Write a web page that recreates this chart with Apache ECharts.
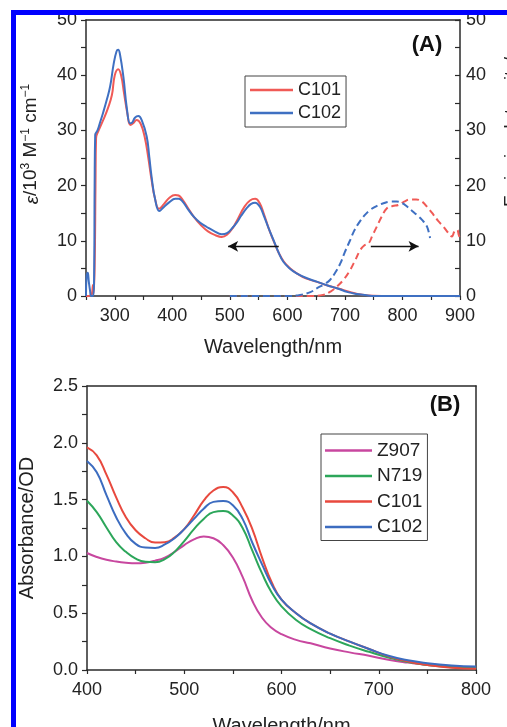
<!DOCTYPE html>
<html>
<head>
<meta charset="utf-8">
<script src="https://cdn.jsdelivr.net/npm/echarts@6/dist/echarts.min.js"></script>
<style>
html,body{margin:0;padding:0;background:#fff;}
#c{width:507px;height:727px;}
</style>
</head>
<body>
<div id="c"></div>
<script>
// ---------- Panel A : absorption (left axis) ----------
var absNmC101 = [250,255,260,262,263,265,266.5,267.5,272,280,288,295,300,306,311,316,322,327,332,338,345,352,358,364,370,377,385,395,405,411,418,428,437,450,462,475,486,495,505,515,525,535,544,552,560,568,576,585,594,605,618,632,650,670,690,710,730,750,780,820,860,900];
var absValC101 = [0,0,0.3,2,0.5,5,20,28.6,30,31.9,34,36.4,40,41.1,40,36.8,33,31,31.3,31.9,31.2,28.8,25.2,21,17.6,15.8,16.6,17.8,18.3,18.2,17.4,15.8,14.4,12.8,11.7,11,10.7,11.1,12.3,14.2,16.1,17.3,17.6,16.8,14.6,12.1,10,7.8,6.2,5,4,3.2,2.6,1.9,1.3,0.7,0.25,0.05,0,0,0,0];
var absNmC102 = [250,251,253,255,257,259,262,264,265,266,270,274,280,286,292,298,303,306,309,315,321,326.5,330,335,341,347,355.5,360,364,370,377.5,385,395,405,411,418,428,437,448,460,472,486,495,505,512,520,530,537,544,552,560,568,576,585,593,605,616,632,651,670,686,705,721,740,750,800,850,900];
var absValC102 = [0,3.5,4.2,2.5,1,0,0,3,20,29.2,30,31.3,33.3,35.5,38,42,44.3,44.6,43.8,39.7,34,31.3,31.4,32.3,32.6,31.8,28.9,25.2,21.6,17.6,15.4,16.1,17,17.6,17.6,17.1,15.6,14.4,13.3,12.5,11.8,11.2,11.4,12.4,13.3,14.6,16,16.7,16.9,16.2,14.3,12.1,10.1,7.8,6.2,4.9,4.1,3.3,2.6,1.9,1.4,0.7,0.36,0.1,0,0,0,0];
// ---------- Panel A : emission (right axis) ----------
var emNmC101 = [500,560,600,640,662,675,686,698,709,718,726.5,734,741,748,755.6,764,773,783,793,803,813.5,824,834,844,854,862,871,879,886,890,895,898,900];
var emValC101 = [0,0,0,0,0.2,0.8,1.7,3,4.7,6.5,8.3,9.2,9.5,11,12.6,14.4,15.9,16.3,16.5,17.1,17.5,17.5,17.1,16,14.7,13.6,12.6,11.5,10.8,11.6,12,11,10.5];
var emNmC102 = [500,560,600,622,640,651,665,674,683,692,700,709,716,724,734,744,755,767,779,790,800,808,816,825,834,842.5,848];
var emValC102 = [0,0,0,0.2,0.7,1.4,2.2,2.9,4.2,5.9,8,10.1,11.8,13.2,14.6,15.6,16.3,16.8,17.1,17.1,16.8,16.2,15.5,14.7,13.8,12.6,10.5];
// arrows: [from, to, level]
var arrowAbs = [585, 497, 9];
var arrowEm = [745, 828, 9];

// ---------- Panel B : absorbance of films ----------
var nmB = [400,410,420,430,440,450,460,470,480,490,500,510,520,530,540,550,560,570,580,590,600,615,630,650,670,690,710,730,750,775,800];
var valZ907 = [1.03,0.995,0.97,0.955,0.945,0.94,0.945,0.962,0.99,1.04,1.10,1.15,1.175,1.16,1.10,0.99,0.82,0.61,0.46,0.37,0.315,0.265,0.235,0.19,0.155,0.125,0.09,0.065,0.045,0.03,0.02];
var valN719 = [1.49,1.39,1.255,1.125,1.04,0.98,0.952,0.948,0.975,1.04,1.135,1.24,1.33,1.39,1.40,1.36,1.25,1.05,0.85,0.68,0.56,0.44,0.36,0.28,0.215,0.16,0.11,0.07,0.045,0.025,0.015];
var valC101 = [1.96,1.89,1.72,1.52,1.345,1.23,1.16,1.122,1.125,1.165,1.24,1.36,1.49,1.58,1.61,1.565,1.43,1.24,0.99,0.77,0.62,0.50,0.41,0.32,0.25,0.185,0.12,0.075,0.045,0.02,0.01];
var valC102 = [1.84,1.74,1.54,1.345,1.20,1.11,1.078,1.075,1.105,1.16,1.24,1.33,1.42,1.48,1.488,1.45,1.33,1.12,0.93,0.75,0.62,0.50,0.41,0.32,0.25,0.185,0.125,0.085,0.06,0.04,0.03];

var tickA = ['300','400','500','600','700','800','900'];
var tickB = ['400','500','600','700','800'];

function zip(a, b) { return a.map(function (v, i) { return [v, b[i]]; }); }

var FONT = 'Liberation Sans, Arial, Helvetica, sans-serif';
var AX = '#2a2a2a';
var colA = { C101: '#f05a56', C102: '#3f70c2' };
var colB = { Z907: '#c8479f', N719: '#2ca65a', C101: '#e8493e', C102: '#3c6cc0' };

function xAx(grid, min, max, labels, name, gap) {
  return {
    type: 'value', gridIndex: grid, position: 'bottom', min: min, max: max, interval: 50,
    axisLine: { lineStyle: { color: AX, width: 1.5 } },
    axisTick: { show: true, length: 4, lineStyle: { color: AX, width: 1.2 } },
    axisLabel: { color: '#222', fontSize: 18, fontFamily: FONT, margin: 11,
      formatter: function (v) { return labels.indexOf(String(v)) >= 0 ? String(v) : ''; } },
    splitLine: { show: false },
    name: name, nameLocation: 'middle', nameGap: gap,
    nameTextStyle: { color: '#222', fontSize: 20, fontFamily: FONT }
  };
}
function frameAx(grid, pos, isX) {
  var o = { type: 'value', gridIndex: grid, position: pos,
    axisLine: { show: true, onZero: false, lineStyle: { color: AX, width: 1.5 } },
    axisTick: { show: false }, axisLabel: { show: false }, splitLine: { show: false } };
  if (isX) { o.min = 0; o.max = 1; }
  return o;
}
function legItem(name, color) {
  return { name: name, icon: 'rect', itemStyle: { color: color, borderWidth: 0 } };
}

var chart = echarts.init(document.getElementById('c'), null, { renderer: 'canvas' });
var option = {
  animation: false,
  backgroundColor: '#fff',
  textStyle: { fontFamily: FONT },
  grid: [
    { left: 86, top: 20, width: 374, height: 276, containLabel: false, outerBoundsMode: 'none' },
    { left: 87, top: 386, width: 389, height: 284, containLabel: false, outerBoundsMode: 'none' }
  ],
  xAxis: [
    xAx(0, 250, 900, tickA, 'Wavelength/nm', 41),
    frameAx(0, 'top', true),
    xAx(1, 400, 800, tickB, 'Wavelength/nm', 46),
    frameAx(1, 'top', true)
  ],
  yAxis: [
    { type: 'value', gridIndex: 0, position: 'left', min: 0, max: 50, interval: 10,
      axisLine: { show: true, lineStyle: { color: AX, width: 1.5 } },
      axisTick: { show: true, length: 5, lineStyle: { color: AX, width: 1.2 } },
      minorTick: { show: true, splitNumber: 2, length: 5, lineStyle: { color: AX, width: 1.2 } },
      axisLabel: { color: '#222', fontSize: 18, fontFamily: FONT, margin: 9 },
      splitLine: { show: false } },
    { type: 'value', gridIndex: 0, position: 'right', min: 0, max: 50, interval: 10,
      axisLine: { show: true, lineStyle: { color: AX, width: 1.5 } },
      axisTick: { show: true, inside: true, length: 5, lineStyle: { color: AX, width: 1.2 } },
      minorTick: { show: true, splitNumber: 2, length: 5, lineStyle: { color: AX, width: 1.2 } },
      axisLabel: { color: '#222', fontSize: 18, fontFamily: FONT, margin: 6 },
      splitLine: { show: false } },
    { type: 'value', gridIndex: 1, position: 'left', min: 0, max: 2.5, interval: 0.5,
      axisLine: { show: true, lineStyle: { color: AX, width: 1.5 } },
      axisTick: { show: true, length: 5, lineStyle: { color: AX, width: 1.2 } },
      minorTick: { show: true, splitNumber: 2, length: 5, lineStyle: { color: AX, width: 1.2 } },
      axisLabel: { color: '#222', fontSize: 18, fontFamily: FONT, margin: 9,
        formatter: function (v) { return v.toFixed(1); } },
      splitLine: { show: false },
      name: 'Absorbance/OD', nameLocation: 'middle', nameGap: 50,
      nameTextStyle: { color: '#222', fontSize: 20, fontFamily: FONT } },
    frameAx(1, 'right', false)
  ],
  legend: [
    { orient: 'vertical', left: 245, top: 76, padding: [5, 5, 5, 5], itemGap: 5,
      itemWidth: 43, itemHeight: 2.5, borderColor: '#444', borderWidth: 1,
      textStyle: { color: '#222', fontSize: 18, fontFamily: FONT },
      data: [legItem('C101', colA.C101), legItem('C102', colA.C102)] },
    { orient: 'vertical', left: 321, top: 434, padding: [7, 5, 4, 4], itemGap: 6.5,
      itemWidth: 47, itemHeight: 2.5, borderColor: '#444', borderWidth: 1,
      textStyle: { color: '#222', fontSize: 19, fontFamily: FONT },
      data: [legItem('Z907', colB.Z907), legItem('N719', colB.N719), legItem('C101', colB.C101), legItem('C102', colB.C102)] }
  ],
  series: [
    { name: 'C101', type: 'line', xAxisIndex: 0, yAxisIndex: 0, data: zip(absNmC101, absValC101),
      symbol: 'none', smooth: 0.45, lineStyle: { color: colA.C101, width: 2 }, itemStyle: { color: colA.C101 }, z: 3 },
    { name: 'C102', type: 'line', xAxisIndex: 0, yAxisIndex: 0, data: zip(absNmC102, absValC102),
      symbol: 'none', smooth: 0.45, lineStyle: { color: colA.C102, width: 2 }, itemStyle: { color: colA.C102 }, z: 4,
      markLine: { silent: true, symbol: ['none', 'arrow'], symbolSize: [8, 10], label: { show: false },
        lineStyle: { color: '#111', width: 1.3, type: 'solid' },
        data: [[{ coord: [arrowAbs[0], arrowAbs[2]] }, { coord: [arrowAbs[1], arrowAbs[2]] }]] } },
    { name: 'C101', type: 'line', xAxisIndex: 0, yAxisIndex: 1, data: zip(emNmC101, emValC101),
      symbol: 'none', smooth: 0.4, lineStyle: { color: colA.C101, width: 2, type: [7, 4] }, itemStyle: { color: colA.C101 }, z: 3 },
    { name: 'C102', type: 'line', xAxisIndex: 0, yAxisIndex: 1, data: zip(emNmC102, emValC102),
      symbol: 'none', smooth: 0.4, lineStyle: { color: colA.C102, width: 2, type: [7, 4] }, itemStyle: { color: colA.C102 }, z: 4,
      markLine: { silent: true, symbol: ['none', 'arrow'], symbolSize: [8, 10], label: { show: false },
        lineStyle: { color: '#111', width: 1.3, type: 'solid' },
        data: [[{ coord: [arrowEm[0], arrowEm[2]] }, { coord: [arrowEm[1], arrowEm[2]] }]] } },

    { name: 'Z907', type: 'line', xAxisIndex: 2, yAxisIndex: 2, data: zip(nmB, valZ907),
      symbol: 'none', smooth: 0.5, lineStyle: { color: colB.Z907, width: 2 }, itemStyle: { color: colB.Z907 } },
    { name: 'N719', type: 'line', xAxisIndex: 2, yAxisIndex: 2, data: zip(nmB, valN719),
      symbol: 'none', smooth: 0.5, lineStyle: { color: colB.N719, width: 2 }, itemStyle: { color: colB.N719 } },
    { name: 'C101', type: 'line', xAxisIndex: 2, yAxisIndex: 2, data: zip(nmB, valC101),
      symbol: 'none', smooth: 0.5, lineStyle: { color: colB.C101, width: 2 }, itemStyle: { color: colB.C101 } },
    { name: 'C102', type: 'line', xAxisIndex: 2, yAxisIndex: 2, data: zip(nmB, valC102),
      symbol: 'none', smooth: 0.5, lineStyle: { color: colB.C102, width: 2 }, itemStyle: { color: colB.C102 } }
  ],
  graphic: [
    { type: 'text', x: 31, y: 144, rotation: Math.PI / 2, z: 50,
      style: { text: '{i|ε}/10{s|3} M{s|\u22121} cm{s|\u22121}', fill: '#222', align: 'center', verticalAlign: 'middle',
        font: '19px ' + FONT,
        rich: { i: { fontSize: 19, fontStyle: 'italic', fontFamily: FONT, lineHeight: 22, verticalAlign: 'bottom' },
                s: { fontSize: 12, fontFamily: FONT, lineHeight: 22, verticalAlign: 'top' } } } },
    { type: 'text', x: 503, y: 207, rotation: Math.PI / 2, z: 50,
      style: { text: 'Emission Intensity/a.u.', fill: '#222', align: 'left', verticalAlign: 'top', font: '18px ' + FONT } },
    { type: 'text', x: 427, y: 45, z: 50,
      style: { text: '(A)', fill: '#111', align: 'center', verticalAlign: 'middle', font: 'bold 22px ' + FONT } },
    { type: 'text', x: 445, y: 405, z: 50,
      style: { text: '(B)', fill: '#111', align: 'center', verticalAlign: 'middle', font: 'bold 22px ' + FONT } },
    { type: 'rect', z: 100, shape: { x: 11, y: 10, width: 496, height: 5 }, style: { fill: '#0000ff' } },
    { type: 'rect', z: 100, shape: { x: 11, y: 10, width: 5, height: 717 }, style: { fill: '#0000ff' } }
  ]
};
chart.setOption(option);
</script>
</body>
</html>
